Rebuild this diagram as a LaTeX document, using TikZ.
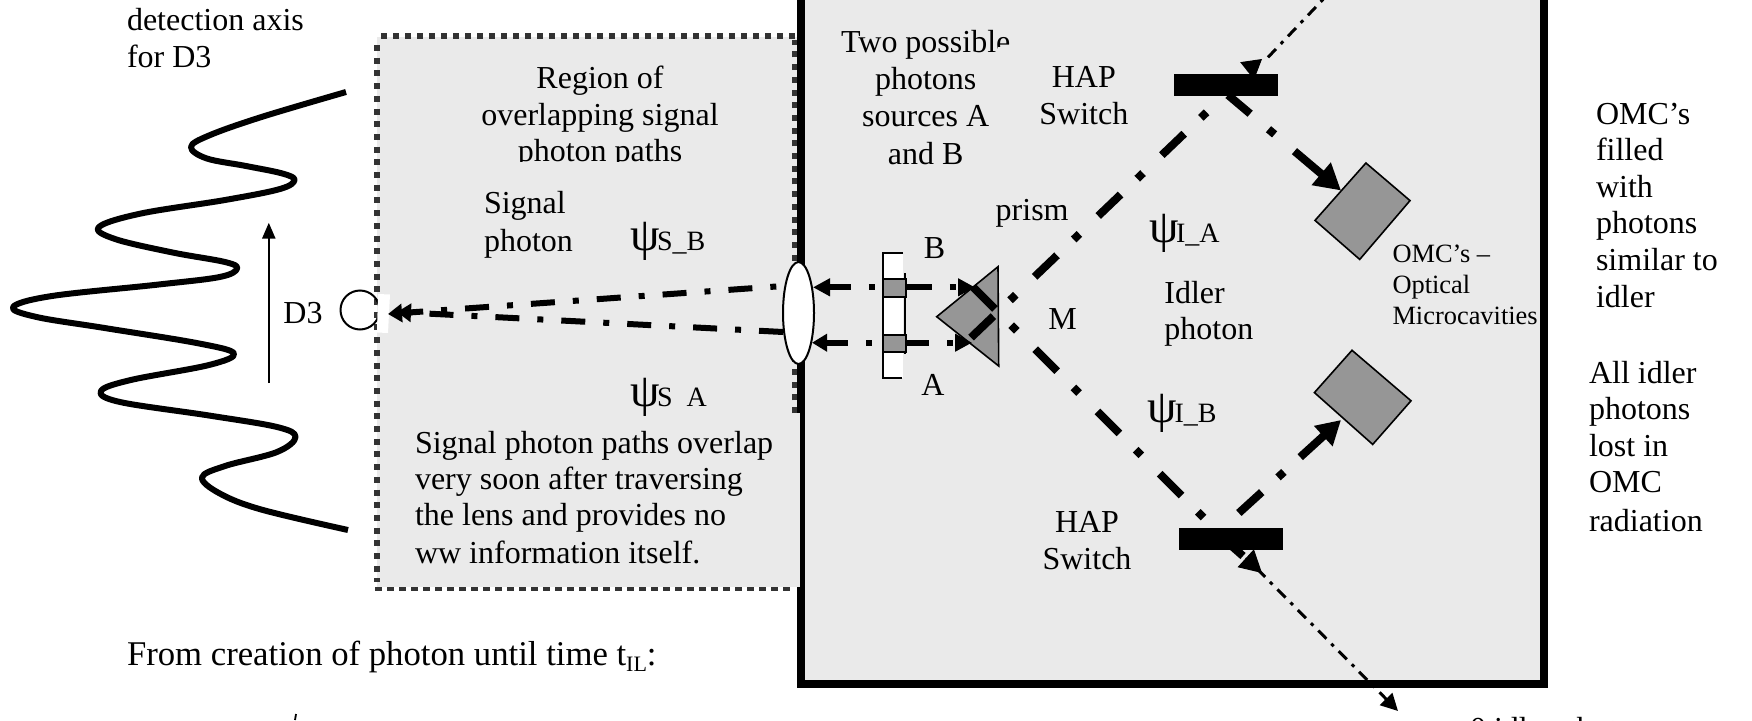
\documentclass[tikz,border=0pt]{standalone}
\usepackage{fontspec}
\setmainfont{Liberation Serif}
\usetikzlibrary{arrows.meta,shapes.geometric}
\definecolor{panel}{HTML}{EAEAEA}
\definecolor{part}{HTML}{969696}
\definecolor{dotline}{HTML}{333333}
\newcommand{\txtsize}{\fontsize{32}{36.7}\selectfont}
\newcommand{\smallsize}{\fontsize{26.4}{31}\selectfont}
\newcommand{\subsize}{\fontsize{28}{30}\selectfont}
\newcommand{\psiglyph}{\makebox[27pt][l]{\fontsize{47}{48}\selectfont ψ}}
\tikzset{
  lbl/.style={inner sep=0pt,outer sep=0pt,font=\txtsize,anchor=base west},
  clbl/.style={inner sep=0pt,outer sep=0pt,font=\txtsize,anchor=base},
  slbl/.style={inner sep=0pt,outer sep=0pt,font=\smallsize,anchor=base west},
  omcbox/.style={fill=part,draw=black,line width=1.6pt,line join=miter},
  hapbar/.style={fill=black,draw=none,inner sep=0pt,minimum width=104pt,minimum height=22pt},
  idler/.style={line width=8pt,dash pattern=on 31pt off 23pt on 8pt off 26pt},
  signal/.style={line width=6pt,black},
  beam/.style={line width=6pt,dash pattern=on 22pt off 18pt on 6pt off 24pt on 33pt off 18pt on 6pt off 200pt},
  lost/.style={line width=3pt,dash pattern=on 11.5pt off 7pt on 3.5pt off 7pt},
  rim/.style={dotline,line width=5.5pt}
}
\begin{document}
\begin{tikzpicture}[x=1pt,y=-1pt]
\useasboundingbox (0,0) rectangle (1752,720);
\clip (0,0) rectangle (1752,720);
% panels
\path[fill=panel] (801,-10) rectangle (1544,684);
\path[fill=panel] (377,37) rectangle (801,587);
\draw[rim,dash pattern=on 6pt off 6pt] (795,36) -- (377,36);
\draw[rim,dash pattern=on 6pt off 6.7pt] (377,45) -- (377,582);
\draw[rim,dash pattern=on 6pt off 6.7pt] (795,413) -- (795,40);
\draw[rim,line width=4pt,dash pattern=on 7pt off 5pt] (375,588.5) -- (792,588.5);
% detector
\draw[line width=2pt] (360,310) circle (19.5);
\path[fill=white] (378,294) -- (390,294.5) -- (388,333) -- (377,332.5) -- cycle;
% wave
\draw[line width=6pt,line join=round] plot[smooth,tension=0.6] coordinates {
 (346,92) (261.5,117) (209,135.5) (191,147) (206.6,158.4) (246,166) (282.4,173.5) (294.5,180)
 (280,189) (225,200) (141,213.5) (99,227) (115,239) (172.6,252.5) (225,262) (237,268.6)
 (219.7,277) (157,284.7) (52,296) (13,307) (36.6,317) (104.6,328) (198.7,343.4) (234,353.5)
 (209,365) (130.8,380) (101,391) (120,402) (209,415.5) (277,427) (295.5,437) (277,452)
 (225,466) (202,477.5) (220,493.6) (261.5,509.6) (348,530)};
\coordinate (axisA) at (268.8,383);
\coordinate (axisB) at (268.8,222.7);
\draw[line width=2.5pt,-{Triangle[length=16pt,width=13pt]}] (axisA) -- (axisB);
% named points
\coordinate (tipDU) at (388,314);
\coordinate (tipDL) at (397,312);
\coordinate (lensU) at (776.3,286.5);
\coordinate (lensL) at (783,332);
\coordinate (beamUL) at (813,287.3);
\coordinate (beamUR) at (975,287.3);
\coordinate (beamLL) at (812,342.7);
\coordinate (beamLR) at (972,342.7);
\coordinate (idA) at (971,337.6);
\coordinate (idAe) at (1232,88);
\coordinate (idB) at (973,287);
\coordinate (idBe) at (1212,526);
% signal rays
\draw[signal,dash pattern=on 6pt off 18pt on 24pt off 18pt,-{Triangle[length=14pt,width=18pt]}] (lensU) -- (tipDU);
\draw[signal,dash pattern=on 24pt off 18pt on 6pt off 18pt,-{Triangle[length=14pt,width=18pt]}] (lensL) -- (tipDL);
% prism
\path[omcbox] (936.7,316.7) -- (998,266.7) -- (998.7,366) -- cycle;
% beams
\draw[beam,{Triangle[length=17pt,width=17pt]}-{Triangle[length=17pt,width=17pt]}] (beamUL) -- (beamUR);
\draw[beam,{Triangle[length=15pt,width=17pt]}-{Triangle[length=17pt,width=17pt]}] (beamLL) -- (beamLR);
% source strip
\path[fill=white] (883,253) rectangle (903,378);
\draw[line width=2pt] (903,253) -- (883,253) -- (883,378) -- (902,378);
\draw[line width=2pt] (905,273) -- (905,354);
\node[omcbox,line width=2pt,minimum width=23pt,minimum height=18pt,inner sep=0pt] (cellB) at (894.5,288) {};
\node[omcbox,line width=2pt,minimum width=23pt,minimum height=17pt,inner sep=0pt] (cellA) at (894.5,343.5) {};
% OMCs
\path[omcbox] (1365.9,163) -- (1410,200.6) -- (1359.7,259.4) -- (1315,220.4) -- cycle;
\path[omcbox] (1352,350.3) -- (1411,400.8) -- (1372.7,444.4) -- (1314.4,392.6) -- cycle;
% idler rays
\draw[idler] (idA) -- (idAe);
\draw[idler] (idB) -- (idBe);
\coordinate (refA) at (1228,95);
\coordinate (omcA) at (1341,190.5);
\coordinate (refB) at (1238.8,513);
\coordinate (omcB) at (1341,420);
\draw[line width=8pt,dash pattern=on 29pt off 24pt on 8pt off 26pt on 200pt off 10pt,-{Triangle[length=26pt,width=28pt]}] (refA) -- (omcA);
\draw[line width=8pt,dash pattern=on 31pt off 22pt on 8pt off 22pt on 200pt off 10pt,-{Triangle[length=24pt,width=26pt]}] (refB) -- (omcB);
% lost rays
\coordinate (farT) at (1332,-10);
\coordinate (tipT) at (1262,59);
\coordinate (startT) at (1268,57.3);
\coordinate (baseT) at (1247,71);
\coordinate (tipB) at (1262,573);
\coordinate (baseB) at (1245.5,558);
\coordinate (stubB0) at (1226,541);
\coordinate (stubB1) at (1243,556);
\coordinate (startB) at (1257,568.8);
\coordinate (farB) at (1398,711);
\draw[line width=1pt,-{Triangle[length=19pt,width=22pt]}] (baseT) -- (tipT);
\draw[line width=8pt] (stubB0) -- (stubB1);
\draw[line width=1pt,-{Triangle[length=22pt,width=24pt]}] (baseB) -- (tipB);
\draw[lost,-{Triangle[length=17pt,width=17pt]}] (startB) -- (farB);
\draw[lost] (startT) -- (farT);
% HAP bars
\node[hapbar] (hapT) at (1226,85) {};
\node[hapbar] (hapB) at (1231,538.5) {};
% big border
\draw[line width=8pt,line join=miter] (801,-10) -- (801,684) -- (1544,684) -- (1544,-10);
\path[fill=panel] (796.5,413) rectangle (800,587);
\node[ellipse,draw=black,fill=white,line width=2pt,minimum width=31pt,minimum height=102pt,inner sep=0pt] (lens) at (798.5,313) {};
% texts
\node[lbl] (t1) at (127,30) {detection axis};
\node[lbl] (t2) at (127,67) {for D3};
\node[clbl] (t3) at (600,88) {Region of};
\node[clbl] (t4) at (600,125) {overlapping signal};
\node[clbl] (t5) at (600,161) {photon paths};
\path[fill=panel] (480,162) rectangle (700,176);
\node[lbl] (t6) at (484,213.5) {Signal};
\node[lbl] (t7) at (484,251) {photon};
\node[lbl] (t8) at (630,250) {\psiglyph{\subsize S\_B}};
\node[lbl] (t9) at (630,406) {\psiglyph{\subsize S\,\,\,A}};
\node[lbl] (t10) at (415,453.6) {Signal photon paths overlap};
\node[lbl] (t11) at (415,489) {very soon after traversing};
\node[lbl] (t12) at (415,525.7) {the lens and provides no};
\node[lbl] (t13) at (415,563.4) {ww information itself.};
\node[lbl] (t14) at (127,665.7) {\fontsize{34.7}{38}\selectfont From creation of photon until time t\raisebox{-6pt}{\fontsize{22}{24}\selectfont IL}:};
\node[clbl] (t16) at (303,323) {D3};
\node[clbl] (t17) at (925.7,52.4) {Two possible};
\path[fill=panel] (997.5,47) rectangle (1014,56);
\node[clbl] (t18) at (925.7,89.6) {photons};
\node[clbl] (t19) at (925.7,126.8) {sources A};
\node[clbl] (t20) at (925.7,164.5) {and B};
\node[clbl] (t21) at (1083.8,87.3) {HAP};
\node[clbl] (t22) at (1083.8,124.5) {Switch};
\node[lbl] (t23) at (995.7,220) {prism};
\node[lbl] (t24) at (923.8,258) {B};
\node[lbl] (t25) at (921.4,395) {A};
\node[lbl] (t26) at (1048.4,329) {M};
\node[lbl] (t27) at (1149,242) {\psiglyph{\subsize I\_A}};
\node[lbl] (t28) at (1164.4,303) {Idler};
\node[lbl] (t29) at (1164.4,339.8) {photon};
\node[slbl] (t30) at (1392.5,262.6) {OMC’s –};
\node[slbl] (t31) at (1392.5,293.8) {Optical};
\node[slbl] (t32) at (1392.5,324) {Microcavities};
\node[lbl] (t33) at (1147.6,422.4) {\psiglyph{\subsize I\_B}};
\node[clbl] (t34) at (1087,532.7) {HAP};
\node[clbl] (t35) at (1087,569) {Switch};
\node[lbl] (t36) at (1596,124) {OMC’s};
\node[lbl] (t37) at (1596,160.8) {filled};
\node[lbl] (t38) at (1596,197.5) {with};
\node[lbl] (t39) at (1596,233.5) {photons};
\node[lbl] (t40) at (1596,270.5) {similar to};
\node[lbl] (t41) at (1596,307.5) {idler};
\node[lbl] (t42) at (1589,383.5) {All idler};
\node[lbl] (t43) at (1589,419.5) {photons};
\node[lbl] (t44) at (1589,456.5) {lost in};
\node[lbl] (t45) at (1589,492.5) {OMC};
\node[lbl] (t46) at (1589,531) {radiation};
\node[lbl] (t47) at (1470,739) {0 idler photons};
\draw[line width=1.8pt] (296,714) -- (295,720);
\end{tikzpicture}
\end{document}
